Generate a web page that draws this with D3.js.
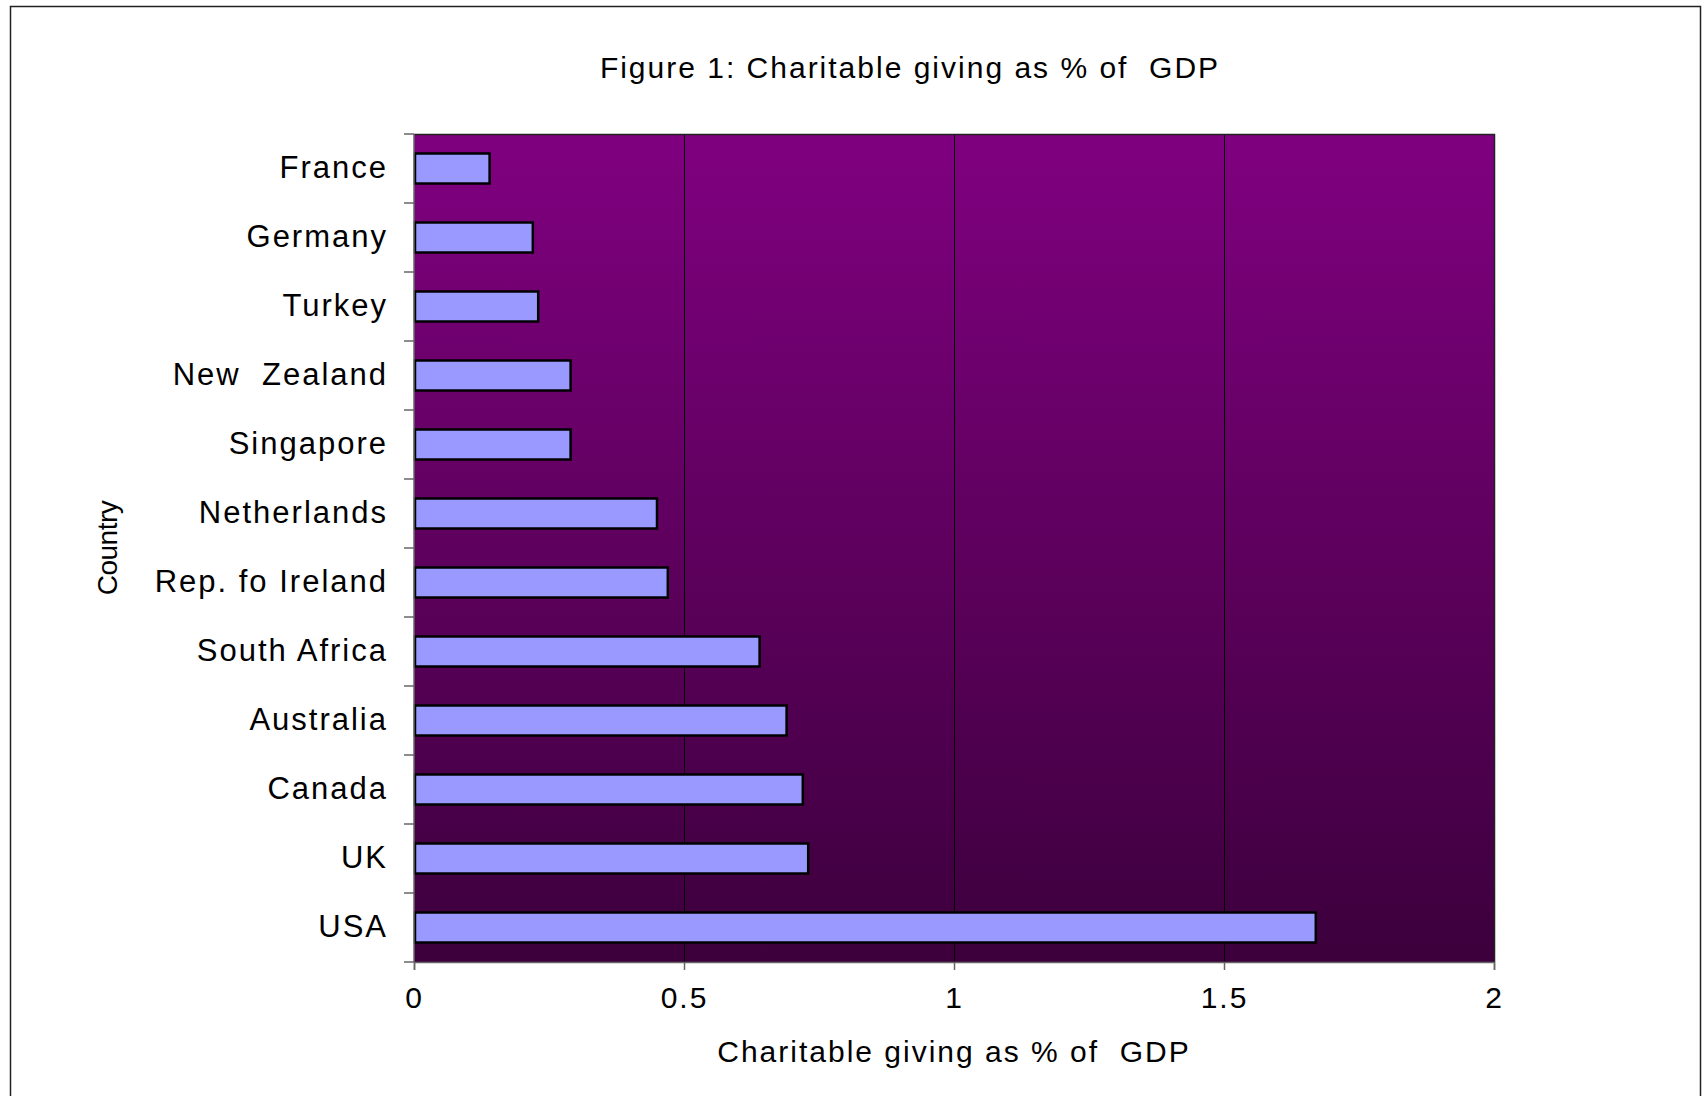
<!DOCTYPE html>
<html>
<head>
<meta charset="utf-8">
<script src="https://cdn.jsdelivr.net/npm/d3@7"></script>
<style>
  body { margin: 0; background: #fff; }
  text { font-family: "Liberation Sans", Arial, sans-serif; fill: #000; }
</style>
</head>
<body>
<div id="chart"></div>
<script>
var width = 1707;
var height = 1096;

// Data
var countries = ["France", "Germany", "Turkey", "New  Zealand", "Singapore", "Netherlands",
  "Rep. fo Ireland", "South Africa", "Australia", "Canada", "UK", "USA"];
var giving = [0.14, 0.22, 0.23, 0.29, 0.29, 0.45, 0.47, 0.64, 0.69, 0.72, 0.73, 1.67];
var xTicks = [0, 0.5, 1, 1.5, 2];

var data = countries.map(function (c, i) { return { country: c, value: giving[i] }; });

var margin = { left: 414, top: 134, right: 1494, bottom: 962 };

var svg = d3.select("#chart")
  .append("svg")
  .attr("width", width)
  .attr("height", height);

// outer chart frame
svg.append("rect")
  .attr("x", 10.5).attr("y", 6.5)
  .attr("width", 1690).attr("height", 1100)
  .attr("fill", "none")
  .attr("stroke", "#222")
  .attr("stroke-width", 1.5);

// gradient for plot area
var defs = svg.append("defs");
var grad = defs.append("linearGradient")
  .attr("id", "bg")
  .attr("x1", 0).attr("y1", 0).attr("x2", 0).attr("y2", 1);
grad.append("stop").attr("offset", "0%").attr("stop-color", "#800080");
grad.append("stop").attr("offset", "100%").attr("stop-color", "#3c003c");

var x = d3.scaleLinear()
  .domain([0, 2])
  .range([margin.left, margin.right]);

var y = d3.scaleBand()
  .domain(countries)
  .range([margin.top, margin.bottom])
  .paddingInner(0.565)
  .paddingOuter(0.2825);

// plot area
svg.append("rect")
  .attr("x", margin.left).attr("y", margin.top)
  .attr("width", margin.right - margin.left)
  .attr("height", margin.bottom - margin.top)
  .attr("fill", "url(#bg)");

// gridlines
svg.append("g")
  .selectAll("line")
  .data(xTicks.slice(1, -1))
  .enter().append("line")
    .attr("x1", function (d) { return Math.round(x(d)) + 0.5; })
    .attr("x2", function (d) { return Math.round(x(d)) + 0.5; })
    .attr("y1", margin.top)
    .attr("y2", margin.bottom)
    .attr("stroke", "#000")
    .attr("stroke-width", 1);

// plot border (top and right)
svg.append("path")
  .attr("d", "M" + margin.left + "," + (margin.top + 0.5) + "H" + (margin.right + 0.5) + "V" + margin.bottom)
  .attr("fill", "none")
  .attr("stroke", "#222")
  .attr("stroke-width", 1.5);

// bars
svg.append("g")
  .selectAll("rect")
  .data(data)
  .enter().append("rect")
    .attr("x", x(0) + 1)
    .attr("y", function (d) { return y(d.country); })
    .attr("width", function (d) { return x(d.value) - x(0) - 1; })
    .attr("height", y.bandwidth())
    .attr("fill", "#9999ff")
    .attr("stroke", "#000")
    .attr("stroke-width", 2.5);

// x axis
var xAxis = svg.append("g")
  .attr("transform", "translate(0," + margin.bottom + ")")
  .call(d3.axisBottom(x).tickValues(xTicks).tickSize(8).tickPadding(17).tickFormat(d3.format("")));
xAxis.select(".domain").attr("stroke", "#666").attr("stroke-width", 1.5);
xAxis.selectAll(".tick line").attr("stroke", "#666").attr("stroke-width", 1.5);
xAxis.selectAll("text")
  .attr("fill", "#000")
  .style("font-size", "30px")
  .style("letter-spacing", "2px")
  .style("font-family", "'Liberation Sans', Arial, sans-serif");

// y axis: labels centred on bands, ticks at band boundaries
var yAxis = svg.append("g")
  .attr("transform", "translate(" + margin.left + ",0)")
  .call(d3.axisLeft(y).tickSize(0).tickPadding(26));
yAxis.select(".domain").remove();
yAxis.selectAll("text")
  .attr("fill", "#000")
  .style("font-size", "31px")
  .style("letter-spacing", "2px")
  .style("white-space", "pre")
  .style("font-family", "'Liberation Sans', Arial, sans-serif");

var bounds = d3.range(countries.length + 1).map(function (i) { return margin.top + i * y.step(); });
svg.append("g")
  .selectAll("line")
  .data(bounds)
  .enter().append("line")
    .attr("x1", margin.left - 10)
    .attr("x2", margin.left)
    .attr("y1", function (d) { return d; })
    .attr("y2", function (d) { return d; })
    .attr("stroke", "#666")
    .attr("stroke-width", 1.5);
svg.append("line")
  .attr("x1", margin.left).attr("x2", margin.left)
  .attr("y1", margin.top).attr("y2", margin.bottom)
  .attr("stroke", "#666").attr("stroke-width", 1.5);

// titles
svg.append("text")
  .attr("x", 910)
  .attr("y", 78)
  .attr("text-anchor", "middle")
  .style("font-size", "30px")
  .style("letter-spacing", "2px")
  .style("white-space", "pre")
  .text("Figure 1: Charitable giving as % of  GDP");

svg.append("text")
  .attr("x", (margin.left + margin.right) / 2)
  .attr("y", 1062)
  .attr("text-anchor", "middle")
  .style("font-size", "30px")
  .style("letter-spacing", "2px")
  .style("white-space", "pre")
  .text("Charitable giving as % of  GDP");

svg.append("text")
  .attr("transform", "translate(117,548) rotate(-90)")
  .attr("text-anchor", "middle")
  .style("font-size", "28px")
  .style("letter-spacing", "-0.5px")
  .text("Country");
</script>
</body>
</html>
